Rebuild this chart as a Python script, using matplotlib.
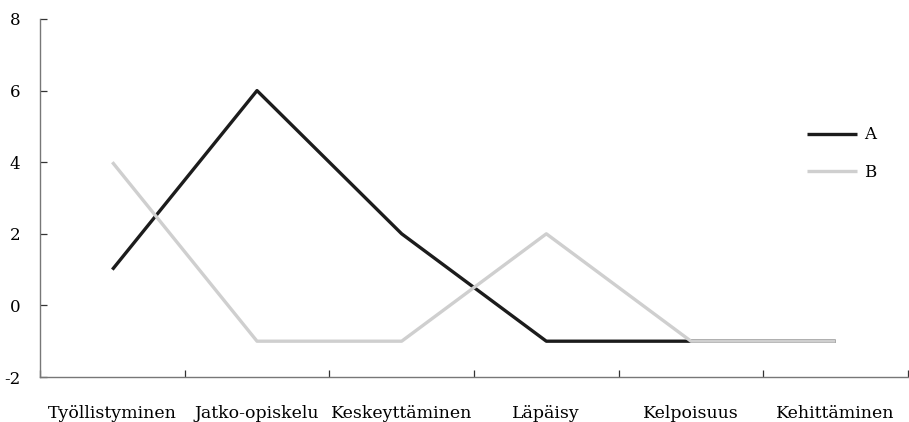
import matplotlib.pyplot as plt
import numpy as np

categories = ["Työllistyminen", "Jatko-opiskelu", "Keskeyttäminen", "Läpäisy", "Kelpoisuus", "Kehittäminen"]
series_a = [1, 6, 2, -1, -1, -1]
series_b = [4, -1, -1, 2, -1, -1]
y_ticks = [-2, 0, 2, 4, 6, 8]

plt.rcParams["font.family"] = ["DejaVu Serif"]

fig = plt.figure(figsize=(9.09, 4.22), dpi=100)
ax = fig.add_axes([40 / 909, 45 / 422, 868 / 909, 358 / 422])

x = np.arange(len(categories))
ax.plot(x, series_a, color="#1c1c1c", linewidth=2.4, label="A", solid_capstyle="butt")
ax.plot(x, series_b, color="#cfcfcf", linewidth=2.4, label="B", solid_capstyle="butt")

ax.set_xlim(-0.5, len(categories) - 0.5)
ax.set_ylim(-2, 8)
ax.set_yticks(y_ticks)
ax.set_yticklabels([str(v) for v in y_ticks])

# category labels centred, tick marks on the boundaries
ax.set_xticks(x)
ax.set_xticklabels(categories)
ax.set_xticks(np.arange(len(categories) + 1) - 0.5, minor=True)
ax.tick_params(axis="x", which="major", length=0, pad=20, labelsize=12.5)
ax.tick_params(axis="x", which="minor", direction="in", length=5, width=0.9, color="#333333")
ax.tick_params(axis="y", direction="in", length=5, width=0.9, color="#333333", pad=14, labelsize=12)

for side in ("top", "right"):
    ax.spines[side].set_visible(False)
for side in ("left", "bottom"):
    ax.spines[side].set_color("#777777")
    ax.spines[side].set_linewidth(1.0)

ax.legend(loc="upper left", bbox_to_anchor=(0.884, 0.70), frameon=False, fontsize=12,
          handlelength=3.0, handletextpad=0.42, labelspacing=1.25,
          borderpad=0, borderaxespad=0)

fig.savefig("out.png", dpi=100)
